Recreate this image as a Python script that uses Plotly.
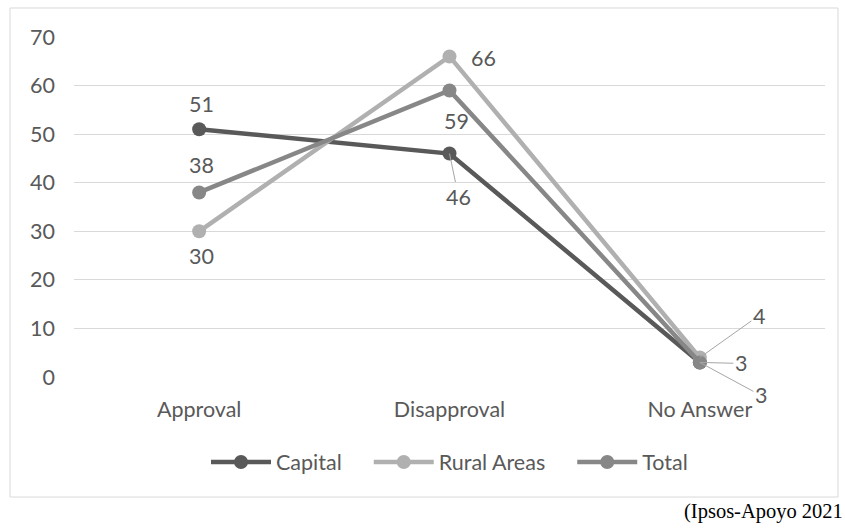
import plotly.graph_objects as go

categories = ["Approval", "Disapproval", "No Answer"]
capital = [51, 46, 3]
rural = [30, 66, 4]
total = [38, 59, 3]

series_names = ["Capital", "Rural Areas", "Total"]
series_values = [capital, rural, total]
series_colors = ["#595959", "#b0b0b0", "#878787"]

# label offsets in pixels (dx, dy, leader?)
label_offsets = [
    [(2, -25, False), (9, 43, True), (61, 33, True)],
    [(2, 25, False), (34, 2, False), (59, -42, True)],
    [(2, -27, False), (7, 31, False), (41, 1, True)],
]

FONT = "Lato"
FS = 21.5
TXT = "#595959"
PAD = "\u00a0" * 4

fig = go.Figure()
for i, (name, vals, col) in enumerate(zip(series_names, series_values, series_colors)):
    fig.add_trace(go.Scatter(
        x=categories, y=vals, name=name + (PAD if i < 2 else ""), mode="lines+markers",
        line=dict(color=col, width=4.5),
        marker=dict(color=col, size=14),
    ))

annotations = []
for vals, offs in zip(series_values, label_offsets):
    for cat, v, (dx, dy, leader) in zip(categories, vals, offs):
        if leader:
            annotations.append(dict(
                x=cat, y=v, xref="x", yref="y", text=str(v),
                showarrow=True, arrowhead=0, arrowwidth=1, arrowcolor="#a6a6a6",
                ax=dx, ay=dy, font=dict(family=FONT, size=FS, color=TXT),
            ))
        else:
            annotations.append(dict(
                x=cat, y=v, xref="x", yref="y", text=str(v),
                showarrow=False, xshift=dx, yshift=-dy,
                font=dict(family=FONT, size=FS, color=TXT),
            ))

annotations.append(dict(
    x=1.0266, y=-0.397, xref="paper", yref="paper", text="(Ipsos-Apoyo 2021",
    showarrow=False, xanchor="right", yanchor="middle",
    font=dict(family="Liberation Serif", size=20.5, color="#000000"),
))

fig.update_layout(
    width=845, height=532,
    margin=dict(l=74, r=20, t=37, b=155),
    paper_bgcolor="white", plot_bgcolor="white",
    font=dict(family=FONT, size=FS, color=TXT),
    showlegend=True,
    legend=dict(orientation="h", x=0.5, xanchor="center", y=-0.25, yanchor="middle",
                font=dict(family=FONT, size=FS, color=TXT), itemwidth=60,
                traceorder="normal"),
    xaxis=dict(range=[-0.5, 2.5], showgrid=False, showline=False, zeroline=False,
               ticks="", ticklabelstandoff=17,
               tickfont=dict(family=FONT, size=FS, color=TXT)),
    yaxis=dict(range=[0, 70], dtick=10, showgrid=True, gridcolor="#d9d9d9", gridwidth=1,
               zeroline=False, showline=False, ticks="", ticklabelstandoff=18,
               tickfont=dict(family=FONT, size=FS, color=TXT)),
    annotations=annotations,
    shapes=[dict(type="rect", xref="paper", yref="paper",
                 x0=-0.0852, x1=1.0173, y0=-0.353, y1=1.0853,
                 line=dict(color="#d9d9d9", width=1), layer="below")],
)

fig.write_html("out.html")
